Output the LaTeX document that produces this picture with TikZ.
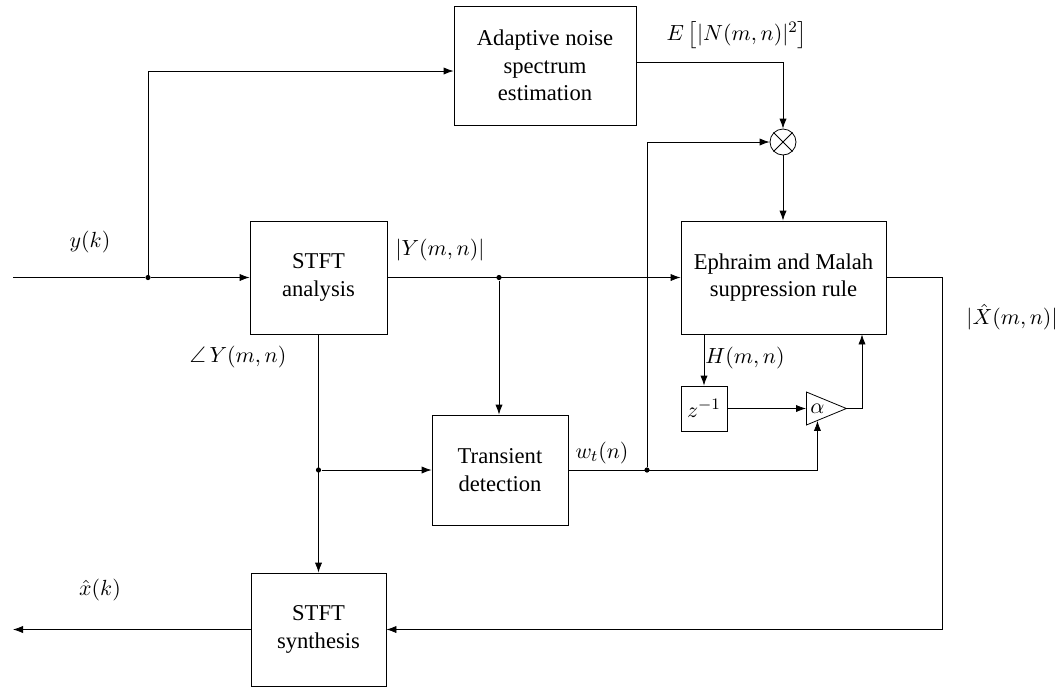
\documentclass[tikz,border=0pt]{standalone}
\usepackage{amsmath,amssymb}
\usepackage[no-math]{fontspec}
\setmainfont{Liberation Serif}
\usepackage{tikz}
\usetikzlibrary{arrows.meta,shapes.geometric,calc}
\tikzset{
  blk/.style={draw,align=center,inner sep=1pt},
  dly/.style={draw,minimum width=23pt,minimum height=22.5pt,inner sep=0pt},
  mul/.style={draw,circle,minimum size=13pt,inner sep=0pt},
  amp/.style={draw,isosceles triangle,isosceles triangle stretches,
    minimum width=16.5pt,minimum height=20pt,inner sep=0pt},
  jdot/.style={circle,fill,inner sep=0pt,minimum size=2.6pt},
  lbl/.style={inner sep=1pt},
}

\begin{document}
\begin{tikzpicture}[x=0.5pt,y=-0.5pt,>={Latex[length=5pt,width=3.6pt]},
    font=\fontsize{11.3}{13.8}\selectfont]
  \useasboundingbox (0,0) rectangle (1062,687);
  % blocks
  \node[blk,minimum width=91pt,minimum height=59.5pt] (noise) at (545,65.5)
        {Adaptive noise\\spectrum\\estimation};
  \node[blk,minimum width=68.5pt,minimum height=56.5pt] (ana) at (318.5,277.5)
        {STFT\\analysis};
  \node[blk,minimum width=102.5pt,minimum height=56.5pt] (emr) at (783.5,277.5)
        {Ephraim and Malah\\suppression rule};
  \node[blk,minimum width=68pt,minimum height=55pt] (trans) at (500,470)
        {Transient\\detection};
  \node[blk,minimum width=67.5pt,minimum height=56.5pt] (syn) at (318.5,629.5)
        {STFT\\synthesis};
  \node[dly] (delay) at (704,408.5) {$z^{-1}$};
  \node[mul] (mult) at (783,142) {};
  \node[amp,anchor=lower side] (gain) at (806,408.5) {$\alpha$};
  % junctions and free ends
  \node[jdot] (ydot) at (148,277.5) {};
  \node[jdot] (magdot) at (499,277.5) {};
  \node[jdot] (phdot) at (318.5,470) {};
  \node[jdot] (wdot) at (647,470) {};
  \coordinate (in) at (13,277.5);
  \coordinate (out) at (13,629.5);
  \coordinate (ret) at (942,629.5);
  % connectors
  \draw (in) -- (ydot);
  \draw[->] (ydot) -- (ana.west);
  \draw[->] (ydot) |- ([yshift=-2.75pt]noise.west);
  \draw[->] ([yshift=1.75pt]noise.east) -| (mult);
  \draw (mult.north west) -- (mult.south east) (mult.north east) -- (mult.south west);
  \draw[->] (mult.south) -- (mult.south |- emr.north);
  \draw[->] (ana.east) -- (emr.west);
  \draw[->] (magdot) -- (magdot |- trans.north);
  \draw[->] (ana) -- (syn);
  \draw[->] (phdot) -- (trans.west);
  \draw[->] (trans.east) -| (gain.south);
  \draw[->] (wdot) |- (mult.west);
  \draw[->] (emr.south -| delay) -- (delay.north);
  \draw[->] (delay.east) -- (gain.lower side);
  \draw[->] (gain.apex) -| ([xshift=39.25pt]emr.south);
  \draw[->] (emr.east) -| (ret) -- (syn.east);
  \draw[->] (syn.west) -- (out);
  % signal labels
  \node[lbl] (ylab) at (90,242) {$y(k)$};
  \node[lbl] (maglab) at (440,250) {$|Y(m,n)|$};
  \node[lbl] (phlab) at (238,357) {$\angle\,Y(m,n)$};
  \node[lbl] (nlab) at (737,35) {$E\left[|N(m,n)|^2\right]$};
  \node[lbl] (wlab) at (602,453) {$w_t(n)$};
  \node[lbl] (hlab) at (745,358) {$H(m,n)$};
  \node[lbl] (xlab) at (1012,317) {$|\hat{X}(m,n)|$};
  \node[lbl] (olab) at (100,590) {$\hat{x}(k)$};
\end{tikzpicture}
\end{document}
